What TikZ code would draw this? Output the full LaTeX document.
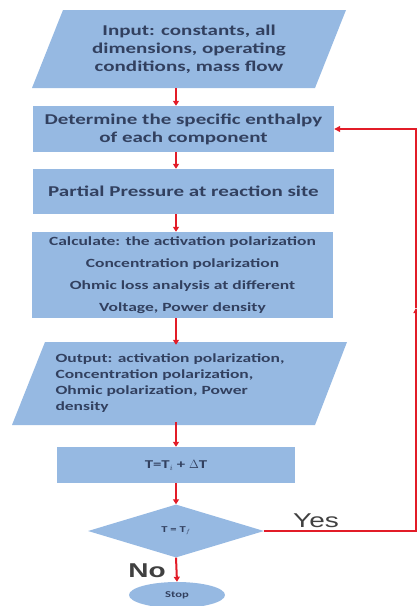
\documentclass[tikz,border=0pt]{standalone}
\usepackage{fontspec}
\setmainfont{Carlito}[FakeStretch=1.4]
\newfontfamily\labelfont{Liberation Sans}[FakeStretch=1.4]
\usetikzlibrary{shapes.geometric,arrows.meta}
\definecolor{boxblue}{RGB}{150,185,226}
\definecolor{boxtext}{RGB}{50,64,95}
\definecolor{flowred}{RGB}{226,28,40}

\begin{document}
\begin{tikzpicture}[x=1pt,y=-1pt,
    box/.style={fill=boxblue, inner sep=0pt, text=boxtext, align=center},
    arr/.style={flowred, line width=2pt, -{Triangle[length=5pt,width=6pt]}},
    back/.style={flowred, line width=1.2pt}]
        \useasboundingbox (0,0) rectangle (417,606);
        % input / output slanted boxes
        \fill [boxblue] (63,10) -- (346,10) -- (315,88) -- (32,88) -- cycle;
        \node (input) [text=boxtext, align=center, minimum height=78pt, font=\bfseries\fontsize{15}{18}\selectfont] at (189,49) {Input: constants, all\\dimensions, operating\\conditions, mass flow};
        \fill [boxblue] (45,342) -- (347,342) -- (315,425) -- (12,425) -- cycle;
        \node (output) [text=boxtext, align=left, anchor=west, minimum height=83pt, font=\bfseries\fontsize{12.5}{16}\selectfont] at (52,383.5) {Output: activation polarization,\\Concentration polarization,\\Ohmic polarization, Power\\density};
        % process boxes
        \node (det) [box, minimum width=301pt, minimum height=46pt, font=\bfseries\fontsize{15}{18}\selectfont] at (183.5,129) {Determine the specific enthalpy\\of each component};
        \node (pp) [box, minimum width=301pt, minimum height=45pt, font=\bfseries\fontsize{15}{18}\selectfont] at (183.5,191.5) {Partial Pressure at reaction site};
        \node (calc) [box, minimum width=301pt, minimum height=86pt, font=\bfseries\fontsize{12.5}{22}\selectfont] at (182.5,275) {Calculate: the activation polarization\\Concentration polarization\\Ohmic loss analysis at different\\Voltage, Power density};
        \node (tbox) [box, minimum width=238pt, minimum height=36pt, font=\bfseries\fontsize{12}{14}\selectfont] at (176,465) {T=T$_i$ + $\Delta$T};
        % decision and end
        \node (test) [box, diamond, minimum width=176pt, minimum height=53pt, font=\bfseries\fontsize{9}{10}\selectfont] at (176,531) {T = T$_f$};
        \node (stop) [box, ellipse, minimum width=96pt, minimum height=26pt, font=\bfseries\fontsize{9}{10}\selectfont] at (177,595) {Stop};
        % labels
        \node (yes) [text=black!75, font=\labelfont\fontsize{20}{22}\selectfont] at (316,521) {Yes};
        \node (no) [text=black!75, font=\labelfont\bfseries\fontsize{20}{22}\selectfont] at (147,571) {No};
        % arrows
        \draw [arr] (input.south -| tbox.north) -- (det.north -| tbox.north);
        \draw [arr] (det.south -| tbox.north) -- (pp.north -| tbox.north);
        \draw [arr] (pp.south -| tbox.north) -- (calc.north -| tbox.north);
        \draw [arr] (calc.south -| tbox.north) -- ([yshift=-3pt]output.north -| tbox.north);
        \draw [arr] ([yshift=3pt]output.south -| tbox.north) -- (tbox.north);
        \draw [arr] (tbox.south) -- (test.north);
        \draw [arr] (test.south) -- (stop.north);
        % loop back
        \coordinate (cornerB) at (416,531);
        \coordinate (midR) at (416,308);
        \coordinate (cornerT) at (416,129);
        \draw [back, -{Triangle[length=5pt,width=5pt]}] (test.east) -- (cornerB) -- (midR);
        \draw [back, -{Triangle[length=6pt,width=6pt]}] (midR) -- (cornerT) -- (det.east);
\end{tikzpicture}
\end{document}
